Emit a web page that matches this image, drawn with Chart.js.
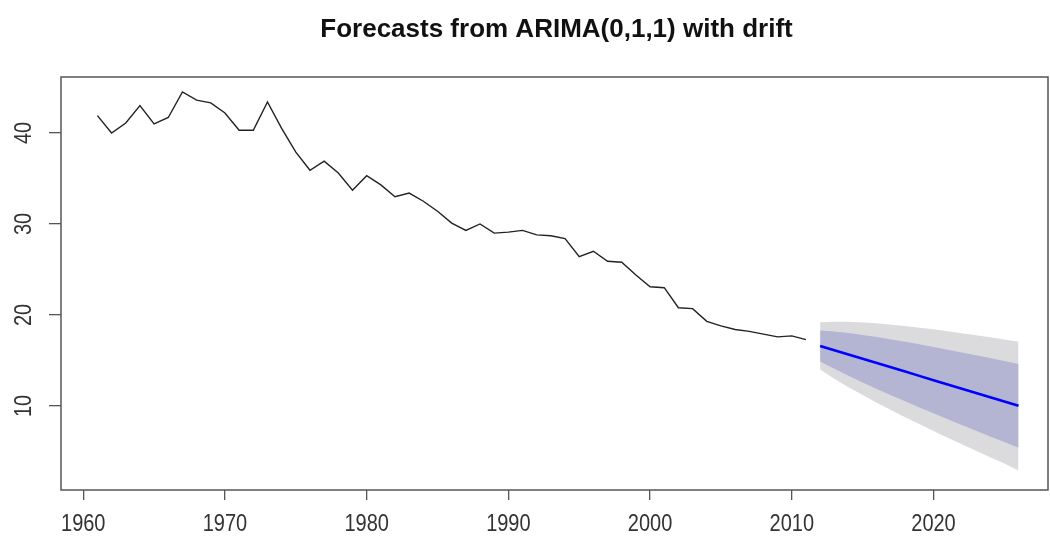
<!DOCTYPE html>
<html>
<head>
<meta charset="utf-8">
<script src="https://cdn.jsdelivr.net/npm/chart.js@4.4.1/dist/chart.umd.min.js"></script>
<style>
  html, body { margin: 0; padding: 0; background: #fff; }
  #wrap { width: 1050px; height: 544px; }
</style>
</head>
<body>
<div id="wrap"><canvas id="chart" width="1050" height="544"></canvas></div>
<script>
// observed series, one value per year
const years = [1961, 1962, 1963, 1964, 1965, 1966, 1967, 1968, 1969, 1970,
  1971, 1972, 1973, 1974, 1975, 1976, 1977, 1978, 1979, 1980,
  1981, 1982, 1983, 1984, 1985, 1986, 1987, 1988, 1989, 1990,
  1991, 1992, 1993, 1994, 1995, 1996, 1997, 1998, 1999, 2000,
  2001, 2002, 2003, 2004, 2005, 2006, 2007, 2008, 2009, 2010, 2011];
const observed = [41.9, 40.0, 41.1, 43.0, 41.0, 41.7, 44.5, 43.6, 43.3, 42.2,
  40.3, 40.3, 43.4, 40.5, 37.9, 35.9, 36.9, 35.6, 33.7, 35.3,
  34.3, 33.0, 33.4, 32.5, 31.4, 30.1, 29.3, 30.0, 29.0, 29.1,
  29.3, 28.8, 28.7, 28.4, 26.4, 27.0, 25.9, 25.8, 24.4, 23.1,
  23.0, 20.8, 20.7, 19.3, 18.8, 18.4, 18.2, 17.9, 17.6, 17.7, 17.3];

// forecast horizon
const fcYears = [2012, 2013, 2014, 2015, 2016, 2017, 2018, 2019, 2020, 2021,
  2022, 2023, 2024, 2025, 2026];
const fcMean = [16.60, 16.13, 15.66, 15.19, 14.72, 14.25, 13.78, 13.31, 12.84, 12.37,
  11.90, 11.43, 10.96, 10.49, 10.02];
const hi80 = [18.30, 18.18, 18.01, 17.80, 17.57, 17.32, 17.05, 16.78, 16.49, 16.19,
  15.89, 15.58, 15.27, 14.94, 14.62];
const lo80 = [14.90, 14.08, 13.31, 12.58, 11.87, 11.18, 10.51, 9.84, 9.19, 8.55,
  7.91, 7.28, 6.65, 6.04, 5.42];
const hi95 = [19.20, 19.26, 19.25, 19.18, 19.08, 18.94, 18.79, 18.61, 18.42, 18.22,
  18.00, 17.78, 17.55, 17.30, 17.05];
const lo95 = [14.00, 13.00, 12.07, 11.20, 10.36, 9.56, 8.77, 8.01, 7.26, 6.52,
  5.80, 5.08, 4.37, 3.68, 2.90];

const xTicks = [1960, 1970, 1980, 1990, 2000, 2010, 2020];
const yTicks = [10, 20, 30, 40];
const title = 'Forecasts from ARIMA(0,1,1) with drift';

const pts = (xs, ys) => xs.map((x, i) => ({ x: x, y: ys[i] }));

const FONT = '"Liberation Sans", Arial, sans-serif';
const STRETCH = 1.18; // glyphs are a little taller than wide

// draws text with glyphs stretched along their own vertical direction
function tallText(ctx, text, x, y, rot) {
  ctx.save();
  ctx.translate(x, y);
  ctx.rotate(rot);
  ctx.scale(1, STRETCH);
  ctx.fillText(text, 0, 0);
  ctx.restore();
}

// frame, tick labels and the main title
const decor = {
  id: 'decor',
  afterDraw(chart) {
    const ctx = chart.ctx;
    const a = chart.chartArea;
    ctx.save();
    ctx.strokeStyle = '#555';
    ctx.lineWidth = 1.5;
    ctx.strokeRect(a.left, a.top, a.right - a.left, a.bottom - a.top);

    ctx.fillStyle = '#333';
    ctx.font = '20px ' + FONT;
    ctx.textAlign = 'center';
    ctx.textBaseline = 'middle';
    const ys = chart.scales.y;
    yTicks.forEach(v => tallText(ctx, String(v), 24, ys.getPixelForValue(v), -Math.PI / 2));
    const xs = chart.scales.x;
    xTicks.forEach(v => tallText(ctx, String(v), xs.getPixelForValue(v), 524, 0));

    ctx.fillStyle = '#111';
    ctx.font = 'bold 26px ' + FONT;
    ctx.fillText(title, (a.left + a.right) / 2 + 2, 30);
    ctx.restore();
  }
};

new Chart(document.getElementById('chart'), {
  type: 'line',
  data: {
    datasets: [
      { data: pts(years, observed), borderColor: '#222', borderWidth: 1.4,
        pointRadius: 0, fill: false, order: 0, tension: 0 },
      { data: pts(fcYears, fcMean), borderColor: '#0000ff', borderWidth: 2.6,
        pointRadius: 0, fill: false, order: 1 },
      { data: pts(fcYears, hi80), borderWidth: 0, pointRadius: 0,
        backgroundColor: '#b3b5d3', fill: { target: 3 }, order: 2 },
      { data: pts(fcYears, lo80), borderWidth: 0, pointRadius: 0, fill: false, order: 2 },
      { data: pts(fcYears, hi95), borderWidth: 0, pointRadius: 0,
        backgroundColor: '#dbdbde', fill: { target: 5 }, order: 3 },
      { data: pts(fcYears, lo95), borderWidth: 0, pointRadius: 0, fill: false, order: 3 }
    ]
  },
  options: {
    responsive: false,
    animation: false,
    devicePixelRatio: 1,
    layout: { padding: { left: 0, top: 77, right: 2, bottom: 0 } },
    plugins: { legend: { display: false }, tooltip: { enabled: false }, title: { display: false } },
    scales: {
      x: {
        type: 'linear',
        min: 1958.43,
        max: 2028.08,
        afterBuildTicks: s => { s.ticks = xTicks.map(v => ({ value: v })); },
        afterFit: s => { s.height = 54; },
        border: { display: false },
        grid: { drawOnChartArea: false, drawTicks: true, tickLength: 10, color: '#555', lineWidth: 1.3 },
        ticks: { display: false }
      },
      y: {
        type: 'linear',
        min: 0.77,
        max: 46.15,
        afterBuildTicks: s => { s.ticks = yTicks.map(v => ({ value: v })); },
        afterFit: s => { s.width = 61; },
        border: { display: false },
        grid: { drawOnChartArea: false, drawTicks: true, tickLength: 12, color: '#555', lineWidth: 1.3 },
        ticks: { display: false }
      }
    }
  },
  plugins: [decor]
});
</script>
</body>
</html>
